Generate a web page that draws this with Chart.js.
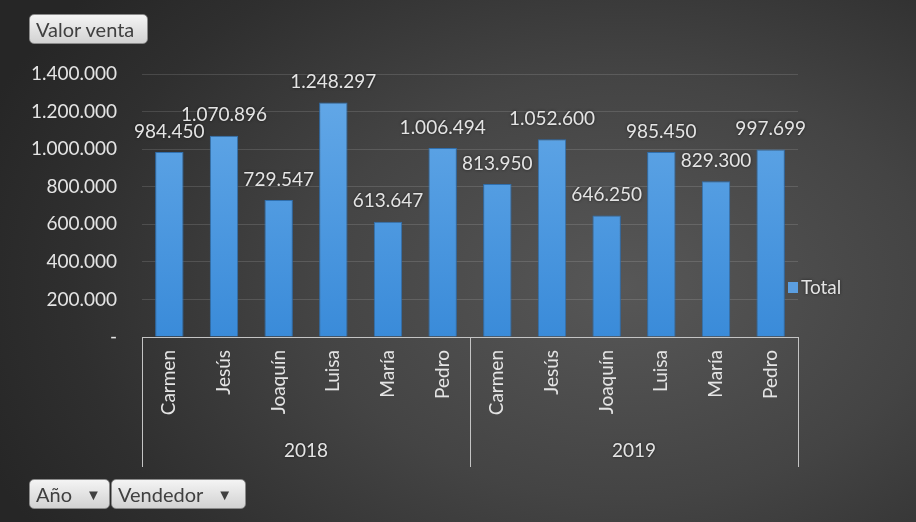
<!DOCTYPE html>
<html>
<head>
<meta charset="utf-8">
<script src="https://cdn.jsdelivr.net/npm/chart.js@4"></script>
<style>
  html, body { margin: 0; padding: 0; }
  body {
    width: 916px; height: 522px; overflow: hidden; position: relative;
    background: radial-gradient(ellipse 75% 90% at 68% 55%, #575757 0%, #444 45%, #2f2f2f 80%, #262626 100%);
    font-family: Lato, "Open Sans", sans-serif;
  }
  #wrap { position: absolute; left: 0; top: 0; width: 916px; height: 522px; }
  .btn {
    position: absolute; height: 30px; line-height: 29px;
    background: linear-gradient(#f4f4f4, #d2d2d2);
    border: 1px solid #8a8a8a; border-radius: 5px;
    color: #404040; font-size: 20px; padding: 0 6px; box-sizing: border-box;
    white-space: nowrap;
  }
  .btn .arr { font-size: 15px; margin-left: 14px; position: relative; top: -2px; }
</style>
</head>
<body>
<div id="wrap"><canvas id="chart" width="916" height="522"></canvas></div>
<div class="btn" style="left:29px; top:14px; width:119px;">Valor venta</div>
<div class="btn" style="left:29px; top:479px; width:81px;">Año<span class="arr">▼</span></div>
<div class="btn" style="left:111px; top:479px; width:135px;">Vendedor<span class="arr">▼</span></div>
<script>
const years = ['2018', '2019'];
const sellers = ['Carmen', 'Jesús', 'Joaquín', 'Luisa', 'María', 'Pedro'];
const total2018 = [984450, 1070896, 729547, 1248297, 613647, 1006494];
const total2019 = [813950, 1052600, 646250, 985450, 829300, 997699];
const yTicks = [0, 200000, 400000, 600000, 800000, 1000000, 1200000, 1400000];

const labels = [...sellers, ...sellers];
const values = [...total2018, ...total2019];

const fmt = v => v === 0 ? '-' : v.toLocaleString('de-DE');
const textColor = '#e4e4e4';
const fontFam = 'Lato, "Open Sans", sans-serif';

// value labels, year groups with box lines, and legend on the right
const excelBits = {
  id: 'excelBits',
  afterDatasetsDraw(chart) {
    const ctx = chart.ctx;
    const meta = chart.getDatasetMeta(0);
    const x = chart.scales.x;
    const area = chart.chartArea;
    ctx.save();
    ctx.shadowColor = 'rgba(0,0,0,0.6)';
    ctx.shadowBlur = 3;
    ctx.fillStyle = textColor;
    ctx.font = '19px ' + fontFam;
    ctx.textAlign = 'center';
    ctx.textBaseline = 'bottom';
    meta.data.forEach((bar, i) => {
      ctx.fillText(fmt(values[i]), bar.x, bar.y - 11);
    });

    // group box
    const half = (x.getPixelForValue(1) - x.getPixelForValue(0)) / 2;
    const mid = x.getPixelForValue(sellers.length - 1) + half;
    const bottom = 467;
    ctx.shadowBlur = 0;
    ctx.strokeStyle = '#c4c4c4';
    ctx.lineWidth = 1;
    ctx.beginPath();
    ctx.moveTo(area.left, area.bottom + 0.5);
    ctx.lineTo(area.right, area.bottom + 0.5);
    [area.left, mid, area.right].forEach(px => {
      ctx.moveTo(Math.round(px) + 0.5, area.bottom);
      ctx.lineTo(Math.round(px) + 0.5, bottom);
    });
    ctx.stroke();
    ctx.shadowBlur = 3;
    ctx.font = '19px ' + fontFam;
    ctx.textBaseline = 'middle';
    ctx.fillText(years[0], (area.left + mid) / 2, 451);
    ctx.fillText(years[1], (mid + area.right) / 2, 451);

    // legend
    ctx.shadowBlur = 0;
    ctx.fillStyle = '#5b9ee0';
    ctx.fillRect(788, 282, 10, 11);
    ctx.shadowBlur = 3;
    ctx.fillStyle = textColor;
    ctx.textAlign = 'left';
    ctx.font = '19px ' + fontFam;
    ctx.fillText('Total', 801, 288);
    ctx.restore();
  }
};

const ctx = document.getElementById('chart').getContext('2d');
const grad = ctx.createLinearGradient(0, 74, 0, 337);
grad.addColorStop(0, '#66aae8');
grad.addColorStop(1, '#3a8bd9');

new Chart(ctx, {
  type: 'bar',
  data: {
    labels: labels,
    datasets: [{
      label: 'Total',
      data: values,
      backgroundColor: grad,
      borderColor: '#2f6fae',
      borderWidth: 1,
      categoryPercentage: 1,
      barPercentage: 0.52
    }]
  },
  options: {
    responsive: false,
    animation: false,
    layout: { padding: { top: 74, right: 118, bottom: 55, left: 10 } },
    plugins: { legend: { display: false }, tooltip: { enabled: false } },
    scales: {
      x: {
        grid: { display: false, drawTicks: false },
        border: { display: false },
        ticks: {
          color: textColor, font: { family: fontFam, size: 19 },
          minRotation: 90, maxRotation: 90, padding: 13, autoSkip: false
        },
        afterFit(scale) { scale.height = 130; }
      },
      y: {
        min: 0, max: 1400000,
        afterBuildTicks(scale) { scale.ticks = yTicks.map(v => ({ value: v })); },
        grid: { color: 'rgba(255,255,255,0.13)', drawTicks: false },
        border: { display: false },
        ticks: {
          color: textColor, font: { family: fontFam, size: 19 }, padding: 25,
          callback: v => fmt(v)
        },
        afterFit(scale) { scale.width = 132; }
      }
    }
  },
  plugins: [excelBits]
});
</script>
</body>
</html>
